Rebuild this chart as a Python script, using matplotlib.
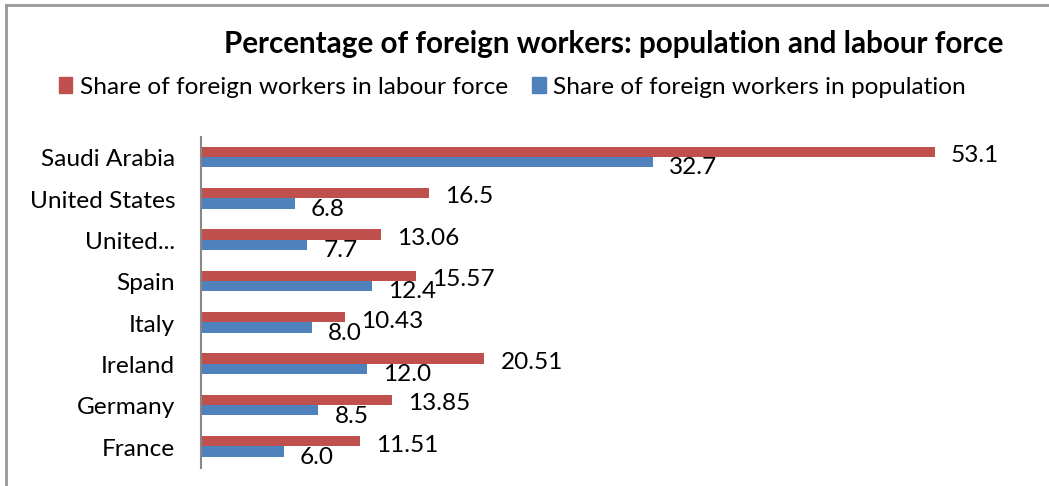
import matplotlib
matplotlib.use("Agg")
import matplotlib.pyplot as plt
from matplotlib.lines import Line2D
from matplotlib.patches import Patch
import numpy as np

plt.rcParams['font.family'] = ['Lato', 'DejaVu Sans']

countries = ["France", "Germany", "Ireland", "Italy", "Spain",
             "United...", "United States", "Saudi Arabia"]
labour_force = [11.51, 13.85, 20.51, 10.43, 15.57, 13.06, 16.5, 53.1]
population = [6.0, 8.5, 12.0, 8.0, 12.4, 7.7, 6.8, 32.7]
labour_labels = ["11.51", "13.85", "20.51", "10.43", "15.57", "13.06", "16.5", "53.1"]
pop_labels = ["6.0", "8.5", "12.0", "8.0", "12.4", "7.7", "6.8", "32.7"]

red = "#C0504D"
blue = "#4F81BD"
fs = 17.6

W, H = 1049, 486
fig = plt.figure(figsize=(W / 100, H / 100), dpi=100)

# plot area in pixels: x 201..1030, y 137..468
ax = fig.add_axes([201 / W, 1 - 468 / H, (1030 - 201) / W, (468 - 137) / H])

y = np.arange(len(countries))
bh = 0.25
ax.barh(y + bh / 2 + 0.02, labour_force, height=bh, color=red)
ax.barh(y - bh / 2 + 0.02, population, height=bh, color=blue)

for yi, v, t in zip(y, labour_force, labour_labels):
    ax.annotate(t, (v, yi + bh / 2), xytext=(16, -3), textcoords="offset pixels",
                ha="left", va="center", fontsize=fs)
for yi, v, t in zip(y, population, pop_labels):
    ax.annotate(t, (v, yi - bh / 2), xytext=(16, -5), textcoords="offset pixels",
                ha="left", va="center", fontsize=fs)

ax.set_xlim(0, 60)
ax.set_ylim(-0.5, len(countries) - 0.5)
ax.set_yticks(y)
ax.set_yticklabels(countries, fontsize=fs)
ax.tick_params(axis="y", length=0, pad=18.5)
ax.set_xticks([])
for s in ["top", "right", "bottom"]:
    ax.spines[s].set_visible(False)
ax.spines["left"].set_color("#888888")
ax.spines["left"].set_linewidth(1.5)

fig.text(614 / W, 1 - 44 / H, "Percentage of foreign workers: population and labour force",
         ha="center", va="center", fontsize=21.3, fontweight="bold")

handles = [Patch(color=red, label="Share of foreign workers in labour force"),
           Patch(color=blue, label="Share of foreign workers in population")]
fig.legend(handles=handles, loc="center left", bbox_to_anchor=(59 / W, 1 - 87 / H),
           ncol=2, frameon=False, fontsize=fs, handlelength=0.55, handleheight=0.6,
           handletextpad=0.3, columnspacing=1.0, borderpad=0, borderaxespad=0)

# outer chart frame (left and top edges visible)
fig.add_artist(Line2D([6 / W, 6 / W], [0, 1 - 5 / H], transform=fig.transFigure,
                      color="#999999", linewidth=2))
fig.add_artist(Line2D([6 / W, 1], [1 - 5 / H, 1 - 5 / H], transform=fig.transFigure,
                      color="#999999", linewidth=2))

fig.savefig("out.png", dpi=100)
